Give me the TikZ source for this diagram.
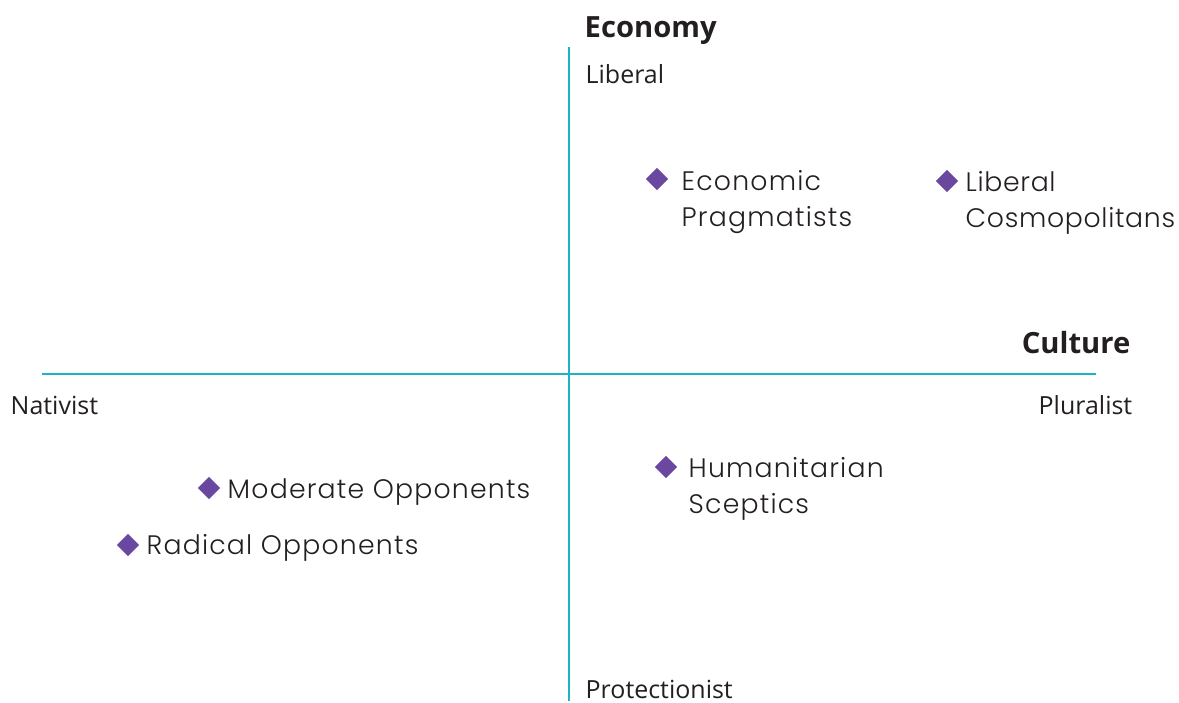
\documentclass[tikz,border=0pt]{standalone}
\usepackage{fontspec}
\setmainfont{Open Sans}
\newfontfamily\groupfont[LetterSpace=4.5]{Poppins Light}
\usetikzlibrary{shapes.geometric,positioning}
\definecolor{axisteal}{HTML}{1DB3C4}
\definecolor{markpurple}{HTML}{6A48A0}
\definecolor{inkgray}{HTML}{231F20}

\begin{document}
\begin{tikzpicture}[x=0.01cm,y=-0.01cm,
    axisline/.style={draw=axisteal, line width=0.7pt},
    axistitle/.style={font=\fontsize{8.3}{10}\selectfont\bfseries, text=inkgray, inner sep=0pt},
    poletext/.style={font=\fontsize{7.1}{9}\selectfont, text=inkgray, inner sep=0pt},
    groupmark/.style={diamond, fill=markpurple, inner sep=0pt, minimum size=0.23cm},
    grouptext/.style={font=\groupfont\fontsize{7.6}{10.3}\selectfont, text=inkgray, inner sep=0pt, align=left, anchor=west}]
    \useasboundingbox (0,0) rectangle (1179,702);

    % Axes
    \coordinate (econtop) at (569,47);
    \coordinate (econbottom) at (569,701);
    \coordinate (cultleft) at (42,374);
    \coordinate (cultright) at (1096,374);
    \draw [axisline] (econtop) -- (econbottom);
    \draw [axisline] (cultleft) -- (cultright);

    % Axis titles and poles
    \node [axistitle, anchor=west] (economy) at (584,31) {Economy};
    \node [axistitle, anchor=east] (culture) at (1131,343) {Culture};
    \node [poletext, anchor=west] (liberal) at (585,74) {Liberal};
    \node [poletext, anchor=west] (protectionist) at (585,689) {Protectionist};
    \node [poletext, anchor=west] (nativist) at (10,405) {Nativist};
    \node [poletext, anchor=east] (pluralist) at (1133,405) {Pluralist};

    % Groups
    \node [groupmark] (pragmark) at (657,179) {};
    \node [grouptext] (pragmatists) at (681,202) {Economic\\Pragmatists};

    \node [groupmark] (cosmomark) at (947,181) {};
    \node [grouptext] (cosmopolitans) at (965,203) {\addfontfeature{LetterSpace=2.5}Liberal\\\addfontfeature{LetterSpace=2.5}Cosmopolitans};

    \node [groupmark] (scepmark) at (666,467) {};
    \node [grouptext] (sceptics) at (688,489) {Humanitarian\\Sceptics};

    \node [groupmark] (modmark) at (209,488) {};
    \node [grouptext] (moderate) at (227,492) {Moderate Opponents};

    \node [groupmark] (radmark) at (128,545) {};
    \node [grouptext] (radical) at (146,548) {Radical Opponents};
\end{tikzpicture}
\end{document}
